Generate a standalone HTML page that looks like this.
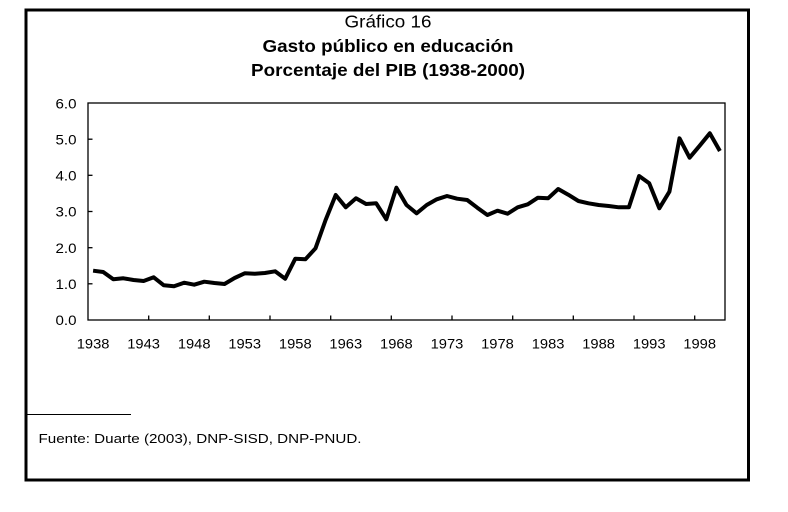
<!DOCTYPE html>
<html>
<head>
<meta charset="utf-8">
<style>
  html, body { margin:0; padding:0; background:#fff; }
  svg { display:block; }
  text { font-family: "Liberation Sans", Arial, sans-serif; fill:#000; }
</style>
</head>
<body>
<svg width="788" height="512" viewBox="0 0 788 512" xmlns="http://www.w3.org/2000/svg">
  <rect x="0" y="0" width="788" height="512" fill="#fff"/>
  <!-- outer frame -->
  <rect x="26" y="10" width="722.5" height="470" fill="none" stroke="#000" stroke-width="3"/>

  <!-- titles -->
  <text x="388" y="27.5" font-size="17.5" text-anchor="middle" textLength="87" lengthAdjust="spacingAndGlyphs">Gráfico 16</text>
  <text x="388" y="52" font-size="17.5" font-weight="bold" text-anchor="middle" textLength="251" lengthAdjust="spacingAndGlyphs">Gasto público en educación</text>
  <text x="388" y="76" font-size="17.5" font-weight="bold" text-anchor="middle" textLength="274" lengthAdjust="spacingAndGlyphs">Porcentaje del PIB (1938-2000)</text>

  <!-- plot area border -->
  <rect x="88" y="103" width="637" height="217" fill="none" stroke="#000" stroke-width="1.3"/>

  <!-- y ticks -->
  <g stroke="#000" stroke-width="1.3">
    <line x1="88" y1="283.8" x2="92.5" y2="283.8"/>
    <line x1="88" y1="247.7" x2="92.5" y2="247.7"/>
    <line x1="88" y1="211.5" x2="92.5" y2="211.5"/>
    <line x1="88" y1="175.3" x2="92.5" y2="175.3"/>
    <line x1="88" y1="139.2" x2="92.5" y2="139.2"/>
  </g>
  <!-- x ticks -->
  <g stroke="#000" stroke-width="1.3">
    <line x1="148.7" y1="320" x2="148.7" y2="315.5"/>
    <line x1="209.3" y1="320" x2="209.3" y2="315.5"/>
    <line x1="270" y1="320" x2="270" y2="315.5"/>
    <line x1="330.7" y1="320" x2="330.7" y2="315.5"/>
    <line x1="391.3" y1="320" x2="391.3" y2="315.5"/>
    <line x1="452" y1="320" x2="452" y2="315.5"/>
    <line x1="512.7" y1="320" x2="512.7" y2="315.5"/>
    <line x1="573.3" y1="320" x2="573.3" y2="315.5"/>
    <line x1="634" y1="320" x2="634" y2="315.5"/>
    <line x1="694.7" y1="320" x2="694.7" y2="315.5"/>
  </g>

  <!-- y labels -->
  <g font-size="13.5" text-anchor="end">
    <text x="76.5" y="108.3" textLength="21" lengthAdjust="spacingAndGlyphs">6.0</text>
    <text x="76.5" y="144.4" textLength="21" lengthAdjust="spacingAndGlyphs">5.0</text>
    <text x="76.5" y="180.5" textLength="21" lengthAdjust="spacingAndGlyphs">4.0</text>
    <text x="76.5" y="216.7" textLength="21" lengthAdjust="spacingAndGlyphs">3.0</text>
    <text x="76.5" y="252.9" textLength="21" lengthAdjust="spacingAndGlyphs">2.0</text>
    <text x="76.5" y="289" textLength="21" lengthAdjust="spacingAndGlyphs">1.0</text>
    <text x="76.5" y="325.2" textLength="21" lengthAdjust="spacingAndGlyphs">0.0</text>
  </g>

  <!-- x labels -->
  <g font-size="13.5" text-anchor="middle">
    <text x="93.1" y="348.3" textLength="32.7" lengthAdjust="spacingAndGlyphs">1938</text>
    <text x="143.6" y="348.3" textLength="32.7" lengthAdjust="spacingAndGlyphs">1943</text>
    <text x="194.2" y="348.3" textLength="32.7" lengthAdjust="spacingAndGlyphs">1948</text>
    <text x="244.7" y="348.3" textLength="32.7" lengthAdjust="spacingAndGlyphs">1953</text>
    <text x="295.3" y="348.3" textLength="32.7" lengthAdjust="spacingAndGlyphs">1958</text>
    <text x="345.8" y="348.3" textLength="32.7" lengthAdjust="spacingAndGlyphs">1963</text>
    <text x="396.4" y="348.3" textLength="32.7" lengthAdjust="spacingAndGlyphs">1968</text>
    <text x="447.0" y="348.3" textLength="32.7" lengthAdjust="spacingAndGlyphs">1973</text>
    <text x="497.5" y="348.3" textLength="32.7" lengthAdjust="spacingAndGlyphs">1978</text>
    <text x="548.1" y="348.3" textLength="32.7" lengthAdjust="spacingAndGlyphs">1983</text>
    <text x="598.6" y="348.3" textLength="32.7" lengthAdjust="spacingAndGlyphs">1988</text>
    <text x="649.2" y="348.3" textLength="32.7" lengthAdjust="spacingAndGlyphs">1993</text>
    <text x="699.7" y="348.3" textLength="32.7" lengthAdjust="spacingAndGlyphs">1998</text>
  </g>

  <!-- data line -->
  <polyline fill="none" stroke="#000" stroke-width="4" stroke-linejoin="round" stroke-linecap="butt"
    points="93.1,270.7 103.2,272 113.3,279.3 123.4,278.3 133.5,280 143.6,281 153.7,277.3 163.8,285.3 174.0,286.3 184.1,282.7 194.2,284.7 204.3,281.7 214.4,283 224.5,284 234.6,278 244.7,273.3 254.8,273.7 264.9,273 275.1,271.3 285.2,278.7 295.3,258.7 305.4,259.3 315.5,248.3 325.6,220 335.7,195 345.8,207.3 356.0,198.3 366.1,204 376.2,203.3 386.3,219.3 396.4,187.7 406.5,205 416.6,213.3 426.7,205 436.8,199.3 447.0,196 457.1,198.7 467.2,200 477.3,207.7 487.4,215 497.5,210.7 507.6,213.7 517.7,207.3 527.8,204.3 537.9,197.7 548.1,198.3 558.2,189 568.3,194.7 578.4,201 588.5,203.3 598.6,205 608.7,206 618.8,207.3 628.9,207.3 639.1,176 649.2,183.3 659.3,208.3 669.4,191.7 679.5,138.3 689.6,157.7 699.7,145.7 709.8,133.3 719.9,151"/>

  <!-- footnote -->
  <line x1="27" y1="414.5" x2="131" y2="414.5" stroke="#000" stroke-width="1"/>
  <text x="38.5" y="443" font-size="13" textLength="323" lengthAdjust="spacingAndGlyphs">Fuente: Duarte (2003), DNP-SISD, DNP-PNUD.</text>
</svg>
</body>
</html>
